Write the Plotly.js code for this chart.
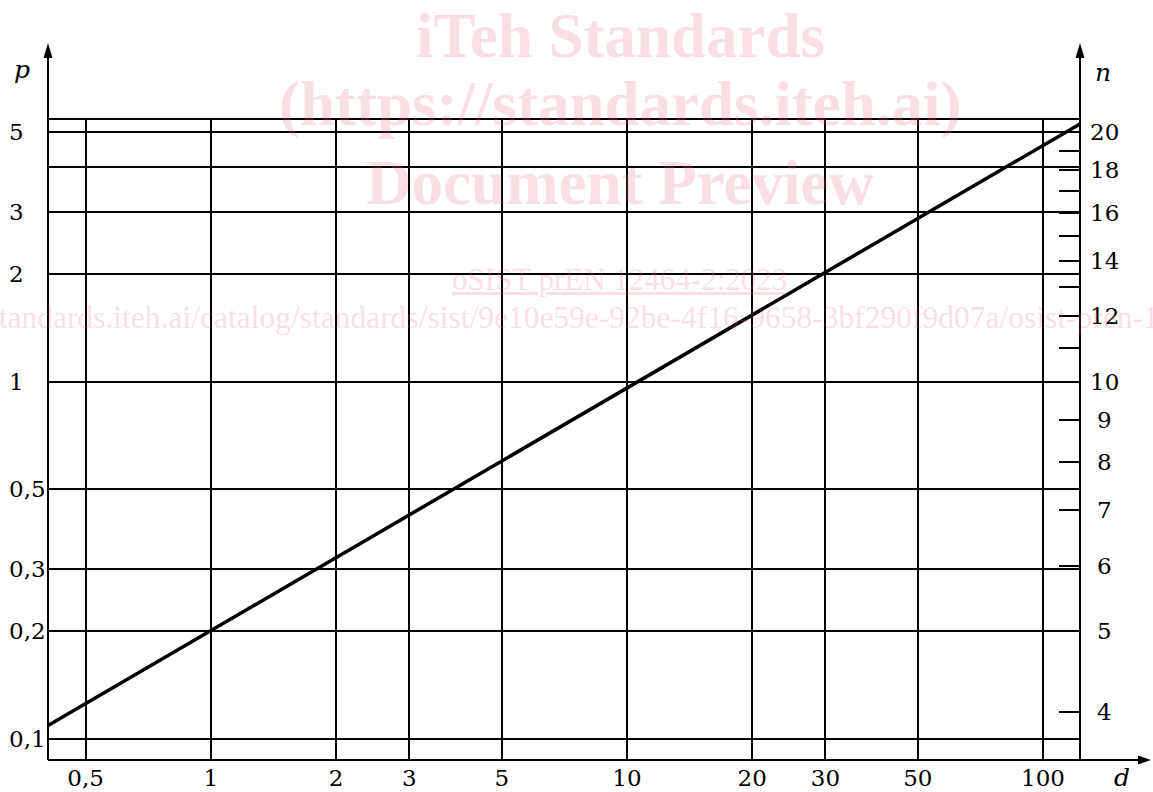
<!DOCTYPE html>
<html><head><meta charset="utf-8">
<script src="https://cdn.plot.ly/plotly-3.0.1.min.js"></script>
<style>html,body{margin:0;padding:0;background:#fff}#chart{width:1153px;height:792px}</style>
</head><body><div id="chart"></div>
<script>
// ---- data ----
const dTicks = [0.5, 1, 2, 3, 5, 10, 20, 30, 50, 100];
const dLabels = ['0,5', '1', '2', '3', '5', '10', '20', '30', '50', '100'];
const pTicks = [0.1, 0.2, 0.3, 0.5, 1, 2, 3, 4, 5];
const pLabels = ['0,1', '0,2', '0,3', '0,5', '1', '2', '3', '', '5'];
const nTicks = [4, 5, 6, 7, 8, 9, 10, 11, 12, 13, 14, 15, 16, 17, 18, 19, 20];
const nLabels = ['4', '5', '6', '7', '8', '9', '10', '', '12', '', '14', '', '16', '', '18', '', '20'];
const lineD = [0.406, 122.7];
const lineP = [0.109, 5.28];
const dRange = [0.406, 122.7];
const pRange = [0.0873, 5.45];
const nExponent = Math.log(5) / Math.log(2); // p = (n/10)^k
const watermark = ['iTeh Standards', '(https://standards.iteh.ai)', 'Document Preview',
  'oSIST prEN 12464-2:2023',
  'https://standards.iteh.ai/catalog/standards/sist/9e10e59e-92be-4f16-9658-3bf290f9d07a/osist-pren-12464-2-2023'];

// ---- layout helpers ----
const W = 1153, H = 792;
const L = 48, R = 1080, T = 119, B = 760;
const px = X => (X - L) / (R - L);
const py = Y => (B - Y) / (B - T);
const lg = Math.log10;
const nRange = pRange.map(p => 1 + lg(p) / nExponent);

const FONT = 'DejaVu Serif';
const TS = 23;
const black = '#000';
const GW = 2;

const traces = [
  {x: lineD, y: lineP, type: 'scatter', mode: 'lines', line: {color: black, width: 3.5},
   hoverinfo: 'skip', cliponaxis: false},
  {x: [], y: [], type: 'scatter', mode: 'lines', yaxis: 'y2', hoverinfo: 'skip'}
];

const annotations = [];
// left tick labels (left aligned)
pTicks.forEach((v, i) => {
  if (!pLabels[i]) return;
  annotations.push({xref: 'paper', yref: 'y', x: px(7), y: lg(v), xanchor: 'left', yanchor: 'middle',
    text: pLabels[i], showarrow: false, font: {family: FONT, size: TS, color: black}});
});
// right tick labels (centred)
nTicks.forEach((v, i) => {
  if (!nLabels[i]) return;
  annotations.push({xref: 'paper', yref: 'y2', x: px(1104), y: lg(v), xanchor: 'center', yanchor: 'middle',
    text: nLabels[i], showarrow: false, font: {family: FONT, size: TS, color: black}});
});
// axis names
[['p', 22, 70], ['n', 1103, 72], ['d', 1122, 777]].forEach(([t, X, Y]) => {
  annotations.push({xref: 'paper', yref: 'paper', x: px(X), y: py(Y), xanchor: 'center', yanchor: 'middle',
    text: '<i>' + t + '</i>', showarrow: false, font: {family: FONT, size: 25, color: black}});
});
// watermark
const wmColor = 'rgba(228,105,132,0.22)';
const wmFont = 'Liberation Serif';
[[0, 36, 63], [1, 104, 63], [2, 183, 63]].forEach(([i, y, s]) => {
  annotations.push({xref: 'paper', yref: 'paper', x: px(620), y: py(y), xanchor: 'center', yanchor: 'middle',
    text: '<b>' + watermark[i] + '</b>', showarrow: false, font: {family: wmFont, size: s, color: wmColor}});
});
annotations.push({xref: 'paper', yref: 'paper', x: px(619), y: py(279), xanchor: 'center', yanchor: 'middle',
  text: '<u>' + watermark[3] + '</u>', showarrow: false, font: {family: wmFont, size: 31, color: wmColor}});
annotations.push({xref: 'paper', yref: 'paper', x: px(-103), y: py(317), xanchor: 'left', yanchor: 'middle',
  text: watermark[4], showarrow: false, font: {family: wmFont, size: 31.5, color: wmColor}});

// axes with arrows
const arrowUp = (X, tipY) => `M ${px(X)},${py(tipY)} L ${px(X - 4.5)},${py(tipY + 15)} L ${px(X + 4.5)},${py(tipY + 15)} Z`;
const arrowRight = (tipX, Y) => `M ${px(tipX)},${py(Y)} L ${px(tipX - 13)},${py(Y - 4.5)} L ${px(tipX - 13)},${py(Y + 4.5)} Z`;
const shapes = [
  {type: 'line', xref: 'paper', yref: 'paper', x0: 0, x1: 1, y0: 1, y1: 1, line: {color: black, width: GW}},
  {type: 'line', xref: 'paper', yref: 'paper', x0: 0, x1: px(1140), y0: 0, y1: 0, line: {color: black, width: GW}},
  {type: 'line', xref: 'paper', yref: 'paper', x0: 0, x1: 0, y0: 0, y1: py(54), line: {color: black, width: GW}},
  {type: 'line', xref: 'paper', yref: 'paper', x0: 1, x1: 1, y0: 0, y1: py(54), line: {color: black, width: GW}},
  {type: 'path', xref: 'paper', yref: 'paper', path: arrowUp(L, 43), fillcolor: black, line: {width: 0}},
  {type: 'path', xref: 'paper', yref: 'paper', path: arrowUp(R, 43), fillcolor: black, line: {width: 0}},
  {type: 'path', xref: 'paper', yref: 'paper', path: arrowRight(1151, B), fillcolor: black, line: {width: 0}}
];

const layout = {
  width: W, height: H,
  margin: {l: L, r: W - R, t: T, b: H - B, pad: 0},
  paper_bgcolor: '#fff', plot_bgcolor: '#fff',
  showlegend: false,
  xaxis: {type: 'log', range: dRange.map(lg), tickvals: dTicks, ticktext: dLabels,
    showgrid: true, gridcolor: black, gridwidth: GW, zeroline: false, showline: false,
    ticks: '', ticklabelstandoff: 2, tickfont: {family: FONT, size: TS, color: black}, fixedrange: true},
  yaxis: {type: 'log', range: pRange.map(lg), tickvals: pTicks, showticklabels: false,
    showgrid: true, gridcolor: black, gridwidth: GW, zeroline: false, showline: false, ticks: '', fixedrange: true},
  yaxis2: {type: 'log', overlaying: 'y', side: 'right', range: nRange, tickvals: nTicks,
    showticklabels: false, ticks: 'inside', ticklen: 21, tickwidth: GW, tickcolor: black,
    showgrid: false, zeroline: false, showline: false, fixedrange: true},
  annotations: annotations,
  shapes: shapes
};

Plotly.newPlot('chart', traces, layout, {staticPlot: true, displayModeBar: false});
</script>
</body></html>
